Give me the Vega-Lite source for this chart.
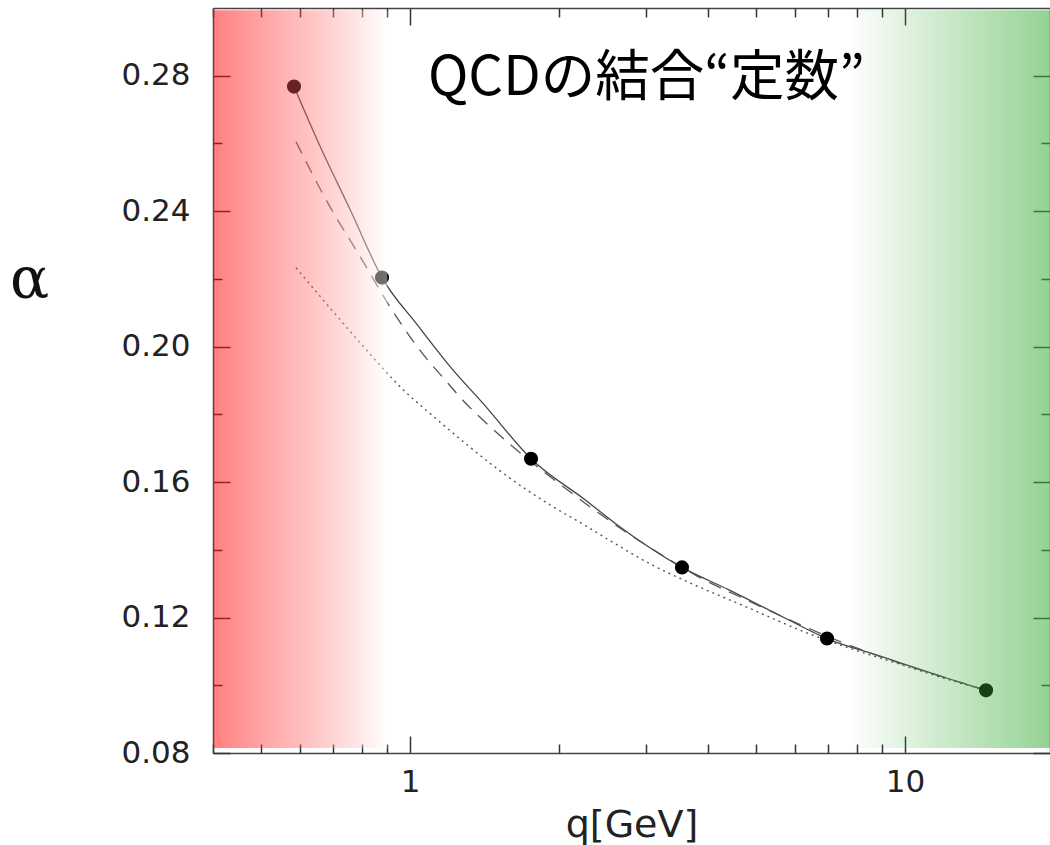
{
  "$schema": "https://vega.github.io/schema/vega-lite/v6.json",
  "autosize": "none",
  "width": 837,
  "height": 745,
  "padding": {"left": 213, "top": 8, "right": 0, "bottom": 92},
  "background": "white",
  "config": {"view": {"stroke": null}},
  "datasets": {
    "solid": [
      {"q": 0.583, "a": 0.2768}, {"q": 0.6519, "a": 0.2605}, {"q": 0.7601, "a": 0.2399},
      {"q": 0.8779, "a": 0.2204}, {"q": 1.0379, "a": 0.2062}, {"q": 1.2101, "a": 0.1938},
      {"q": 1.4173, "a": 0.1826}, {"q": 1.7556, "a": 0.1669}, {"q": 2.257, "a": 0.1548},
      {"q": 2.6317, "a": 0.1472}, {"q": 3.0688, "a": 0.1404}, {"q": 3.5443, "a": 0.1348},
      {"q": 4.3883, "a": 0.1283}, {"q": 5.5393, "a": 0.1209}, {"q": 6.9568, "a": 0.1138},
      {"q": 8.9436, "a": 0.1085}, {"q": 12.216, "a": 0.102}, {"q": 14.575, "a": 0.0985}
    ],
    "dashed": [
      {"q": 0.5884, "a": 0.2605}, {"q": 0.6519, "a": 0.2478}, {"q": 0.7056, "a": 0.2387},
      {"q": 0.7601, "a": 0.231}, {"q": 0.8226, "a": 0.2227}, {"q": 0.882, "a": 0.2151},
      {"q": 0.959, "a": 0.2068}, {"q": 1.0525, "a": 0.1985}, {"q": 1.1659, "a": 0.1909},
      {"q": 1.2915, "a": 0.1835}, {"q": 1.4506, "a": 0.1764}, {"q": 1.6298, "a": 0.1699},
      {"q": 1.8392, "a": 0.1637}, {"q": 2.1147, "a": 0.1569}, {"q": 2.3982, "a": 0.151},
      {"q": 2.7571, "a": 0.1448}, {"q": 3.1696, "a": 0.1392}, {"q": 3.8177, "a": 0.1321},
      {"q": 4.818, "a": 0.125}, {"q": 6.0786, "a": 0.1182}, {"q": 7.6704, "a": 0.112},
      {"q": 9.6789, "a": 0.1067}, {"q": 12.216, "a": 0.102}, {"q": 14.575, "a": 0.0985}
    ],
    "dotted": [
      {"q": 0.5884, "a": 0.2233}, {"q": 0.7056, "a": 0.2097}, {"q": 0.8226, "a": 0.1985},
      {"q": 0.959, "a": 0.1879}, {"q": 1.1233, "a": 0.179}, {"q": 1.3096, "a": 0.1708},
      {"q": 1.5267, "a": 0.1631}, {"q": 1.9268, "a": 0.1531}, {"q": 2.257, "a": 0.1472},
      {"q": 2.6317, "a": 0.1413}, {"q": 3.0688, "a": 0.1357}, {"q": 3.594, "a": 0.1309},
      {"q": 4.7513, "a": 0.1233}, {"q": 6.4582, "a": 0.115}, {"q": 7.6704, "a": 0.1111},
      {"q": 9.6789, "a": 0.1064}, {"q": 12.216, "a": 0.1017}, {"q": 14.575, "a": 0.0985}
    ],
    "pts": [
      {"q": 0.583, "a": 0.2768}, {"q": 0.878, "a": 0.2204}, {"q": 1.756, "a": 0.1669},
      {"q": 3.544, "a": 0.1348}, {"q": 6.957, "a": 0.1138}, {"q": 14.58, "a": 0.0985}
    ],
    "bands": [
      {"zone": "low", "q0": 0.4, "q1": 0.9},
      {"zone": "high", "q0": 7.67, "q1": 20}
    ],
    "note": [{"label": "QCDの結合“定数”"}]
  },
  "layer": [
    {
      "data": {"name": "solid"},
      "mark": {"type": "line", "stroke": "#444", "strokeWidth": 1.3, "interpolate": "monotone"},
      "encoding": {
        "x": {"field": "q", "type": "quantitative",
          "scale": {"type": "log", "domain": [0.4, 19.63], "nice": false},
          "axis": {"orient": "bottom", "values": [1, 10], "format": "d", "title": "q[GeV]",
            "grid": false, "labelFont": "DejaVu Sans", "labelFontSize": 31, "labelColor": "#222",
            "labelPadding": 31, "labelFlush": false, "labelOverlap": false,
            "tickSize": -17, "tickWidth": 1.5, "tickColor": "#333",
            "domainColor": "#444", "domainWidth": 1.5,
            "titleFont": "DejaVu Sans", "titleFontSize": 38, "titleFontWeight": "normal", "titleColor": "#222",
            "titleBaseline": "alphabetic", "titleY": 83}},
        "y": {"field": "a", "type": "quantitative",
          "scale": {"domain": [0.08, 0.3], "nice": false, "zero": false},
          "axis": {"orient": "left", "values": [0.08, 0.12, 0.16, 0.2, 0.24, 0.28], "format": ".2f", "title": "α",
            "grid": false, "labelFont": "DejaVu Sans", "labelFontSize": 31, "labelColor": "#222",
            "labelPadding": 40, "labelFlush": false, "labelOverlap": false,
            "tickSize": -17, "tickWidth": 1.5, "tickColor": "#333",
            "domainColor": "#444", "domainWidth": 1.5,
            "titleFont": "DejaVu Serif", "titleFontSize": 58, "titleFontWeight": "normal", "titleColor": "#111",
            "titleAngle": 0, "titleAlign": "center", "titleBaseline": "alphabetic", "titleX": -184, "titleY": 289}}
      }
    },
    {
      "data": {"name": "dashed"},
      "mark": {"type": "line", "stroke": "#555", "strokeWidth": 1.3, "strokeDash": [13, 9], "interpolate": "monotone"},
      "encoding": {
        "x": {"field": "q", "type": "quantitative",
          "scale": {"type": "log", "domain": [0.4, 19.63], "nice": false},
          "axis": {"orient": "bottom", "values": [0.4, 0.5, 0.6, 0.7, 0.8, 0.9, 2, 3, 4, 5, 6, 7, 8, 9],
            "labels": false, "title": null, "grid": false, "domain": false,
            "tickSize": -9, "tickWidth": 1.5, "tickColor": "#333"}},
        "y": {"field": "a", "type": "quantitative",
          "scale": {"domain": [0.08, 0.3], "nice": false, "zero": false},
          "axis": {"orient": "left", "values": [0.1, 0.14, 0.18, 0.22, 0.26],
            "labels": false, "title": null, "grid": false, "domain": false,
            "tickSize": -9, "tickWidth": 1.5, "tickColor": "#333"}}
      }
    },
    {
      "data": {"name": "dotted"},
      "mark": {"type": "line", "stroke": "#555", "strokeWidth": 1.4, "strokeDash": [2, 4], "interpolate": "monotone"},
      "encoding": {
        "x": {"field": "q", "type": "quantitative",
          "scale": {"type": "log", "domain": [0.4, 19.63], "nice": false},
          "axis": {"orient": "top", "values": [1, 10], "labels": false, "title": null, "grid": false,
            "tickSize": -17, "tickWidth": 1.5, "tickColor": "#333", "domainColor": "#444", "domainWidth": 1.5}},
        "y": {"field": "a", "type": "quantitative",
          "scale": {"domain": [0.08, 0.3], "nice": false, "zero": false},
          "axis": {"orient": "right", "values": [0.08, 0.12, 0.16, 0.2, 0.24, 0.28], "labels": false, "title": null, "grid": false,
            "tickSize": -17, "tickWidth": 1.5, "tickColor": "#333", "domainColor": "#444", "domainWidth": 1.5}}
      }
    },
    {
      "data": {"name": "pts"},
      "mark": {"type": "circle", "color": "#000", "opacity": 1, "size": 200},
      "encoding": {
        "x": {"field": "q", "type": "quantitative",
          "scale": {"type": "log", "domain": [0.4, 19.63], "nice": false},
          "axis": {"orient": "top", "values": [0.4, 0.5, 0.6, 0.7, 0.8, 0.9, 2, 3, 4, 5, 6, 7, 8, 9],
            "labels": false, "title": null, "grid": false, "domain": false,
            "tickSize": -9, "tickWidth": 1.5, "tickColor": "#333"}},
        "y": {"field": "a", "type": "quantitative",
          "scale": {"domain": [0.08, 0.3], "nice": false, "zero": false},
          "axis": {"orient": "right", "values": [0.1, 0.14, 0.18, 0.22, 0.26],
            "labels": false, "title": null, "grid": false, "domain": false,
            "tickSize": -9, "tickWidth": 1.5, "tickColor": "#333"}}
      }
    },
    {
      "data": {"name": "bands"},
      "transform": [{"filter": "datum.zone === 'low'"}],
      "mark": {"type": "rect", "strokeWidth": 0,
        "fill": {"gradient": "linear", "x1": 0, "y1": 0, "x2": 1, "y2": 0,
          "stops": [
            {"offset": 0, "color": "rgba(255,0,0,0.5)"},
            {"offset": 0.5, "color": "rgba(255,90,90,0.4)"},
            {"offset": 1, "color": "rgba(255,255,255,0.45)"}
          ]}},
      "encoding": {
        "x": {"field": "q0", "type": "quantitative", "scale": {"type": "log", "domain": [0.4, 19.63], "nice": false}, "axis": null},
        "x2": {"field": "q1"},
        "y": {"datum": 0.0815, "type": "quantitative", "scale": {"domain": [0.08, 0.3], "nice": false, "zero": false}, "axis": null},
        "y2": {"datum": 0.2993}
      }
    },
    {
      "data": {"name": "bands"},
      "transform": [{"filter": "datum.zone === 'high'"}],
      "mark": {"type": "rect", "strokeWidth": 0,
        "fill": {"gradient": "linear", "x1": 0, "y1": 0, "x2": 1, "y2": 0,
          "stops": [
            {"offset": 0, "color": "rgba(60,175,60,0)"},
            {"offset": 1, "color": "rgba(60,175,60,0.56)"}
          ]}},
      "encoding": {
        "x": {"field": "q0", "type": "quantitative", "scale": {"type": "log", "domain": [0.4, 19.63], "nice": false}, "axis": null},
        "x2": {"field": "q1"},
        "y": {"datum": 0.0815, "type": "quantitative", "scale": {"domain": [0.08, 0.3], "nice": false, "zero": false}, "axis": null},
        "y2": {"datum": 0.2993}
      }
    },
    {
      "data": {"name": "note"},
      "mark": {"type": "text", "font": "Noto Sans CJK JP", "fontSize": 54.5, "align": "left", "baseline": "alphabetic", "color": "#000"},
      "encoding": {
        "x": {"datum": 1.087, "type": "quantitative", "scale": {"type": "log", "domain": [0.4, 19.63], "nice": false}, "axis": null},
        "y": {"datum": 0.2744, "type": "quantitative", "scale": {"domain": [0.08, 0.3], "nice": false, "zero": false}, "axis": null},
        "text": {"field": "label"}
      }
    }
  ],
  "resolve": {"axis": {"x": "independent", "y": "independent"}}
}
